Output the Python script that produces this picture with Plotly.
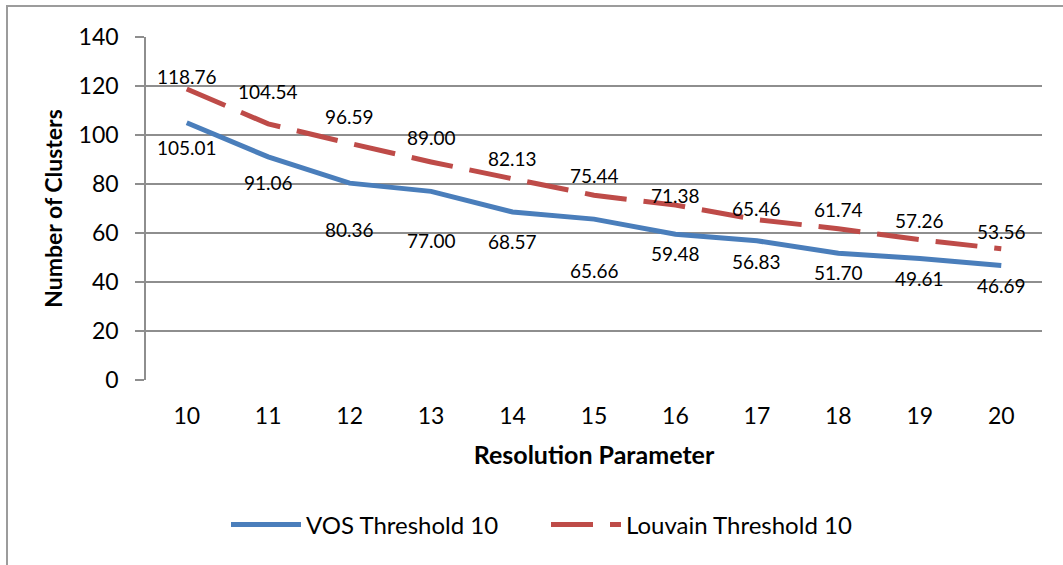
import plotly.graph_objects as go

# Resolution parameter values on the x axis
resolution = [10, 11, 12, 13, 14, 15, 16, 17, 18, 19, 20]

# Average number of clusters for each method
vos_clusters = [105.01, 91.06, 80.36, 77.00, 68.57, 65.66, 59.48, 56.83, 51.70, 49.61, 46.69]
louvain_clusters = [118.76, 104.54, 96.59, 89.00, 82.13, 75.44, 71.38, 65.46, 61.74, 57.26, 53.56]

y_ticks = [0, 20, 40, 60, 80, 100, 120, 140]

# Vertical pixel offsets of the value labels relative to their points
louvain_label_shift = [13, 32, 27, 24, 20, 20, 10, 11, 19, 19, 17]
vos_label_shift = [-25, -26, -46, -49, -29, -51, -19, -21, -19, -20, -20]

BLUE = "#4A7EBB"
RED = "#BE4B48"
GRID = "#8E8E8E"
FONT = "Lato"

W, H = 1063, 565
L, R, T, B = 146, 1042, 37, 380  # plot area edges in pixels

fig = go.Figure()

fig.add_trace(go.Scatter(
    x=resolution, y=vos_clusters, mode="lines", name="VOS Threshold 10",
    line=dict(color=BLUE, width=5),
))
fig.add_trace(go.Scatter(
    x=resolution, y=louvain_clusters, mode="lines", name="Louvain Threshold 10",
    line=dict(color=RED, width=5, dash="42px,17px"),
))

annotations = []
for x, v, s in zip(resolution, louvain_clusters, louvain_label_shift):
    annotations.append(dict(x=x, y=v, text=f"{v:.2f}", showarrow=False,
                            xanchor="center", yanchor="middle", yshift=s,
                            font=dict(family=FONT, size=19, color="#000000")))
for x, v, s in zip(resolution, vos_clusters, vos_label_shift):
    annotations.append(dict(x=x, y=v, text=f"{v:.2f}", showarrow=False,
                            xanchor="center", yanchor="middle", yshift=s,
                            font=dict(family=FONT, size=19, color="#000000")))

# Chart-area border (top and left edges visible, right/bottom run off the canvas)
pw, ph = R - L, B - T
def px_x(p):
    return (p - L) / pw
def px_y(p):
    return (B - p) / ph

shapes = [dict(type="rect", xref="paper", yref="paper",
               x0=px_x(7), x1=px_x(W + 10), y0=px_y(H + 10), y1=px_y(6),
               line=dict(color="#9C9C9C", width=2), fillcolor="rgba(0,0,0,0)",
               layer="below")]

fig.update_layout(
    width=W, height=H,
    margin=dict(l=L, r=W - R, t=T, b=H - B),
    paper_bgcolor="white", plot_bgcolor="white",
    font=dict(family=FONT, color="#000000"),
    showlegend=True,
    legend=dict(orientation="h", x=px_x(546), y=px_y(525),
                xanchor="center", yanchor="middle",
                font=dict(family=FONT, size=24, color="#000000"),
                itemwidth=70, tracegroupgap=0,
                entrywidth=235, entrywidthmode="pixels"),
    annotations=annotations,
    shapes=shapes,
    xaxis=dict(
        range=[9.5, 20.5], tickvals=resolution, ticktext=[str(r) for r in resolution],
        showgrid=False, zeroline=False, showline=False, ticks="",
        ticklabelstandoff=20,
        tickfont=dict(family=FONT, size=23),
        title=dict(text="<b>Resolution Parameter</b>", font=dict(family=FONT, size=25), standoff=18),
    ),
    yaxis=dict(
        range=[0, 140], tickvals=y_ticks,
        showgrid=True, gridcolor=GRID, gridwidth=1.5,
        zeroline=False, showline=True, linecolor=GRID, linewidth=1.5,
        ticks="outside", ticklen=9, tickcolor=GRID, tickwidth=1.5,
        ticklabelstandoff=12,
        tickfont=dict(family=FONT, size=23),
        title=dict(text="<b>Number of Clusters</b>", font=dict(family=FONT, size=23), standoff=10),
    ),
)

fig.write_html("out.html")
